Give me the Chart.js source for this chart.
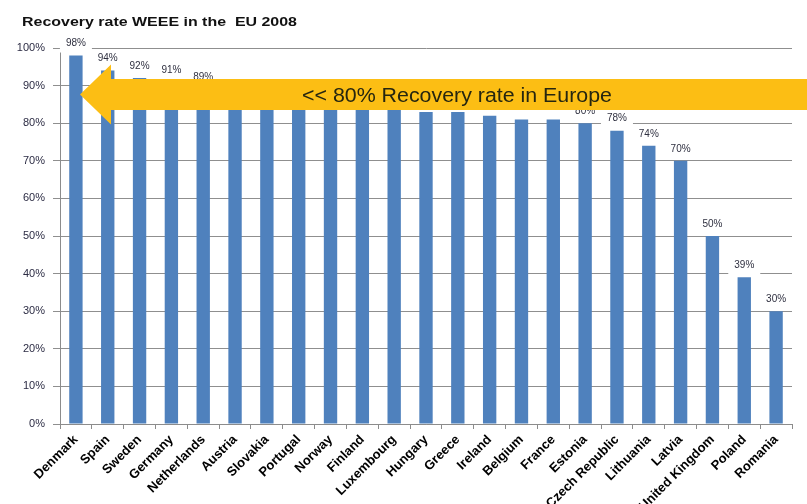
<!DOCTYPE html>
<html>
<head>
<meta charset="utf-8">
<title>Recovery rate WEEE in the EU 2008</title>
<script src="https://cdn.jsdelivr.net/npm/chart.js@4.4.1/dist/chart.umd.min.js"></script>
<style>
  html, body { margin: 0; padding: 0; background: #ffffff; }
  #wrap { width: 807px; height: 504px; position: relative; }
</style>
</head>
<body>
<div id="wrap"><canvas id="chart" width="807" height="504"></canvas></div>
<script>
// Recovery rate of waste electrical and electronic equipment, per country (%)
const countries = [
  'Denmark', 'Spain', 'Sweden', 'Germany', 'Netherlands', 'Austria', 'Slovakia',
  'Portugal', 'Norway', 'Finland', 'Luxembourg', 'Hungary', 'Greece', 'Ireland',
  'Belgium', 'France', 'Estonia', 'Czech Republic', 'Lithuania', 'Latvia',
  'United Kingdom', 'Poland', 'Romania'
];
const recoveryRate = [
  98, 94, 92, 91, 89, 86, 86,
  85, 85, 84, 84, 83, 83, 82,
  81, 81, 80, 78, 74, 70,
  50, 39, 30
];
const yTicks = [0, 10, 20, 30, 40, 50, 60, 70, 80, 90, 100];

const chartTitle = 'Recovery rate WEEE in the  EU 2008';
const arrowText = '<< 80% Recovery rate in Europe';

// Write text horizontally squeezed/stretched to a given width
function fitText(ctx, text, x, y, width) {
  const w = ctx.measureText(text).width;
  ctx.save();
  ctx.translate(x, y);
  ctx.scale(width / w, 1);
  ctx.fillText(text, 0, 0);
  ctx.restore();
}

// Percentage labels above each bar, on a white backing
const barLabels = {
  id: 'barLabels',
  afterDatasetsDraw(chart) {
    const ctx = chart.ctx;
    const meta = chart.getDatasetMeta(0);
    ctx.save();
    ctx.font = '10px "Liberation Sans", Arial, sans-serif';
    ctx.textAlign = 'center';
    ctx.textBaseline = 'middle';
    meta.data.forEach((bar, i) => {
      const v = chart.data.datasets[0].data[i];
      ctx.fillStyle = '#ffffff';
      ctx.fillRect(bar.x - 16, bar.y - 20, 32, 17);
      ctx.fillStyle = '#2f3040';
      ctx.fillText(v + '%', bar.x, bar.y - 12);
    });
    ctx.restore();
  }
};

// Heading and the orange callout arrow
const overlay = {
  id: 'overlay',
  afterDraw(chart) {
    const ctx = chart.ctx;
    const area = chart.chartArea;
    const y = chart.scales.y;

    ctx.save();
    ctx.fillStyle = '#111111';
    ctx.font = 'bold 13px "Liberation Sans", Arial, sans-serif';
    ctx.textBaseline = 'alphabetic';
    fitText(ctx, chartTitle, 22, 26, 275);

    const cy = y.getPixelForValue(87.6);
    const tipX = area.left + 20;
    const headW = 31;
    const headH = 30;
    const bodyH = 15.5;
    ctx.fillStyle = '#fcbe14';
    ctx.beginPath();
    ctx.moveTo(tipX, cy);
    ctx.lineTo(tipX + headW, cy - headH);
    ctx.lineTo(tipX + headW, cy - bodyH);
    ctx.lineTo(chart.width + 2, cy - bodyH);
    ctx.lineTo(chart.width + 2, cy + bodyH);
    ctx.lineTo(tipX + headW, cy + bodyH);
    ctx.lineTo(tipX + headW, cy + headH);
    ctx.closePath();
    ctx.fill();

    ctx.fillStyle = '#262610';
    ctx.font = '20px "Liberation Sans", Arial, sans-serif';
    ctx.textBaseline = 'alphabetic';
    fitText(ctx, arrowText, 302, cy + 7.5, 310);
    ctx.restore();
  }
};

new Chart(document.getElementById('chart'), {
  type: 'bar',
  data: {
    labels: countries,
    datasets: [{
      data: recoveryRate,
      backgroundColor: '#4f81bd',
      borderWidth: 0,
      categoryPercentage: 1,
      barPercentage: 0.42
    }]
  },
  options: {
    responsive: false,
    animation: false,
    devicePixelRatio: 1,
    layout: { padding: { top: 48, right: 15, left: 0, bottom: 0 } },
    plugins: {
      legend: { display: false },
      title: { display: false },
      tooltip: { enabled: false }
    },
    scales: {
      x: {
        grid: { drawOnChartArea: false, tickLength: 5, color: '#8c8c8c' },
        border: { color: '#8c8c8c', width: 1 },
        ticks: {
          autoSkip: false,
          maxRotation: 45,
          minRotation: 45,
          padding: 3,
          color: '#000000',
          font: { family: '"Liberation Sans", Arial, sans-serif', size: 13, weight: 'bold' }
        },
        afterFit(scale) { scale.height = 80; }
      },
      y: {
        min: 0,
        max: 100,
        afterBuildTicks(scale) { scale.ticks = yTicks.map(v => ({ value: v })); },
        grid: { color: '#8f8f8f', tickLength: 7 },
        border: { color: '#8c8c8c', width: 1 },
        ticks: {
          padding: 8,
          color: '#2c2c44',
          font: { family: '"Liberation Sans", Arial, sans-serif', size: 11 },
          callback: v => v + '%'
        },
        afterFit(scale) { scale.width = 60; }
      }
    }
  },
  plugins: [barLabels, overlay]
});
</script>
</body>
</html>
